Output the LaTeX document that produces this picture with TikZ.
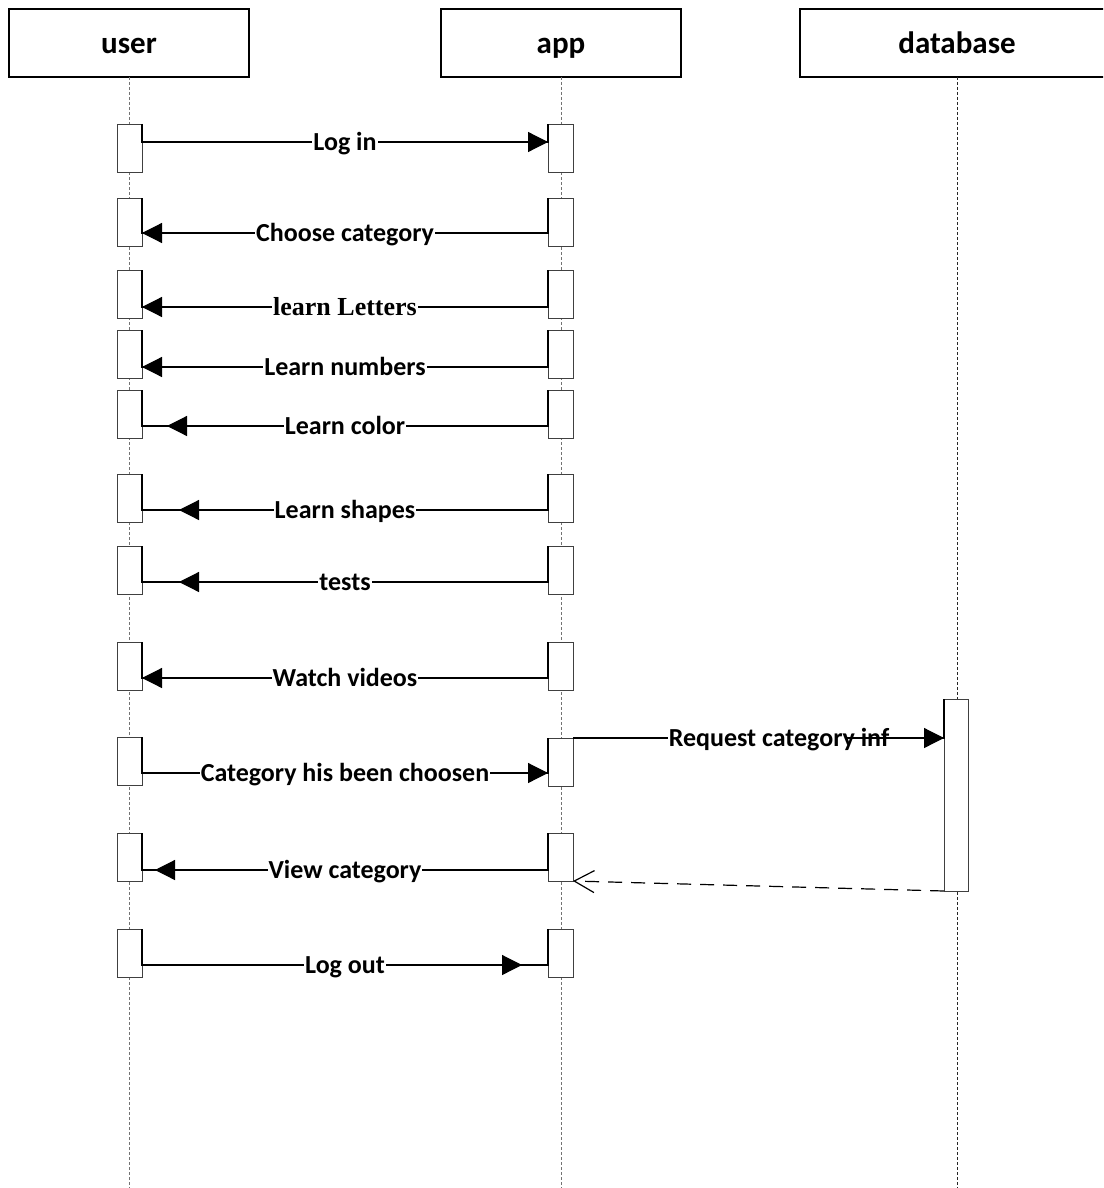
\documentclass[tikz,border=0pt]{standalone}
\usepackage{fontspec}
\setmainfont{Carlito}
\newfontfamily\tnr{Liberation Serif}
\usetikzlibrary{arrows.meta,calc}
\begin{document}
\begin{tikzpicture}[x=1pt,y=-1pt,
  headbox/.style={draw=black, line width=1.1pt, fill=white, minimum width=240pt, minimum height=68pt,
    inner sep=0pt, outer sep=0pt, font=\fontsize{31}{36}\selectfont\bfseries, text height=21pt, text depth=0pt},
  life/.style={dash pattern=on 3pt off 2pt, line width=0.8pt, draw=black!55},
  act/.style={draw=black!75, line width=0.9pt, fill=white, minimum width=25pt, minimum height=48pt,
    inner sep=0pt, outer sep=0pt},
  msg/.style={draw=black, line width=1.2pt},
  lbl/.style={fill=white, inner xsep=1pt, inner ysep=0pt, font=\fontsize{26}{30}\selectfont\bfseries,
    text height=16.7pt, text depth=0pt},
  tipst/.style={draw=black, line width=1.2pt, -{Triangle[length=20pt,width=20pt]}},
  ret/.style={draw=black, line width=1.2pt, dash pattern=on 14pt off 9pt,
    -{Straight Barb[length=20pt,width=22pt,line width=1.2pt]}}
]
\clip (0,0) rectangle (1103,1188);
\fill[white] (0,0) rectangle (1103,1188);

% header boxes
\node[headbox] (user) at (129,43) {user};
\node[headbox] (app) at (561,43) {app};
\node[headbox, minimum width=314pt] (db) at (957,43) {database};

% lifelines
\coordinate (uend) at (129,1188);
\coordinate (aend) at (561,1188);
\coordinate (dend) at (957,1188);
\draw[life] (user.south) -- (uend);
\draw[life] (app.south) -- (aend);
\draw[life, draw=black!85] (db.south) -- (dend);

% activation boxes
\node[act] (u1) at (129.5,148) {};  \node[act] (a1) at (560.5,148) {};
\node[act] (u2) at (129.5,222) {};  \node[act] (a2) at (560.5,222) {};
\node[act] (u3) at (129.5,294) {};  \node[act] (a3) at (560.5,294) {};
\node[act] (u4) at (129.5,354) {};  \node[act] (a4) at (560.5,354) {};
\node[act] (u5) at (129.5,414) {};  \node[act] (a5) at (560.5,414) {};
\node[act] (u6) at (129.5,498) {};  \node[act] (a6) at (560.5,498) {};
\node[act] (u7) at (129.5,570) {};  \node[act] (a7) at (560.5,570) {};
\node[act] (u8) at (129.5,666) {};  \node[act] (a8) at (560.5,666) {};
\node[act] (u9) at (129.5,761) {};  \node[act] (a9) at (560.5,762) {};
\node[act] (u10) at (129.5,857) {}; \node[act] (a10) at (560.5,857) {};
\node[act] (u11) at (129.5,953) {}; \node[act] (a11) at (560.5,953) {};
\node[act, minimum width=24pt, minimum height=192pt] (dbact) at (956,795) {};

% message levels
\coordinate (y1) at (0,142);
\coordinate (y2) at (0,233);
\coordinate (y3) at (0,307);
\coordinate (y4) at (0,367);
\coordinate (y5) at (0,426);
\coordinate (y6) at (0,510);
\coordinate (y7) at (0,582);
\coordinate (y8) at (0,678);
\coordinate (y9) at (0,773);
\coordinate (y10) at (0,870);
\coordinate (y11) at (0,965);

% 1 Log in
\draw[msg] (u1.north east) -- (u1.east |- y1) -- node[lbl]{Log in} (a1.west |- y1) -- (a1.north west);
\draw[tipst] (a1.west |- y1) ++(-21,0) -- ++(21,0);
% 2 Choose category
\draw[msg] (a2.north west) -- (a2.west |- y2) -- node[lbl]{Choose category} (u2.east |- y2) -- (u2.north east);
\draw[tipst] (u2.east |- y2) ++(21,0) -- ++(-21,0);
% 3 learn Letters
\draw[msg] (a3.north west) -- (a3.west |- y3) -- node[lbl]{\tnr learn Letters} (u3.east |- y3) -- (u3.north east);
\draw[tipst] (u3.east |- y3) ++(21,0) -- ++(-21,0);
% 4 Learn numbers
\draw[msg] (a4.north west) -- (a4.west |- y4) -- node[lbl]{Learn numbers} (u4.east |- y4) -- (u4.north east);
\draw[tipst] (u4.east |- y4) ++(21,0) -- ++(-21,0);
% 5 Learn color
\draw[msg] (a5.north west) -- (a5.west |- y5) -- node[lbl]{Learn color} (u5.east |- y5) -- (u5.north east);
\draw[tipst] (u5.east |- y5) ++(45,0) -- ++(-20,0);
% 6 Learn shapes
\draw[msg] (a6.north west) -- (a6.west |- y6) -- node[lbl]{Learn shapes} (u6.east |- y6) -- (u6.north east);
\draw[tipst] (u6.east |- y6) ++(57,0) -- ++(-20,0);
% 7 tests
\draw[msg] (a7.north west) -- (a7.west |- y7) -- node[lbl]{tests} (u7.east |- y7) -- (u7.north east);
\draw[tipst] (u7.east |- y7) ++(57,0) -- ++(-20,0);
% 8 Watch videos
\draw[msg] (a8.north west) -- (a8.west |- y8) -- node[lbl]{Watch videos} (u8.east |- y8) -- (u8.north east);
\draw[tipst] (u8.east |- y8) ++(21,0) -- ++(-21,0);
% 9 Category his been choosen
\draw[msg] (u9.north east) -- (u9.east |- y9) -- node[lbl]{Category his been choosen} (a9.west |- y9) -- (a9.north west);
\draw[tipst] (a9.west |- y9) ++(-21,0) -- ++(21,0);
% Request category inf
\node[lbl, fill=none] (rq) at (779,738) {Request category inf};
\coordinate (rqc) at (845,738);
\draw[msg] (a9.north east) -- (rq.west);
\draw[msg] (rqc) -- (dbact.west |- rqc) -- (dbact.north west);
\draw[tipst] (dbact.west |- rqc) ++(-21,0) -- ++(21,0);
% return (dashed)
\draw[ret] (dbact.south west) -- (a10.south east);
% 10 View category
\draw[msg] (a10.north west) -- (a10.west |- y10) -- node[lbl]{View category} (u10.east |- y10) -- (u10.north east);
\draw[tipst] (u10.east |- y10) ++(33,0) -- ++(-20,0);
% 11 Log out
\draw[msg] (u11.north east) -- (u11.east |- y11) -- node[lbl]{Log out} (a11.west |- y11) -- (a11.north west);
\draw[tipst] (a11.west |- y11) ++(-46,0) -- ++(20,0);
\end{tikzpicture}
\end{document}
